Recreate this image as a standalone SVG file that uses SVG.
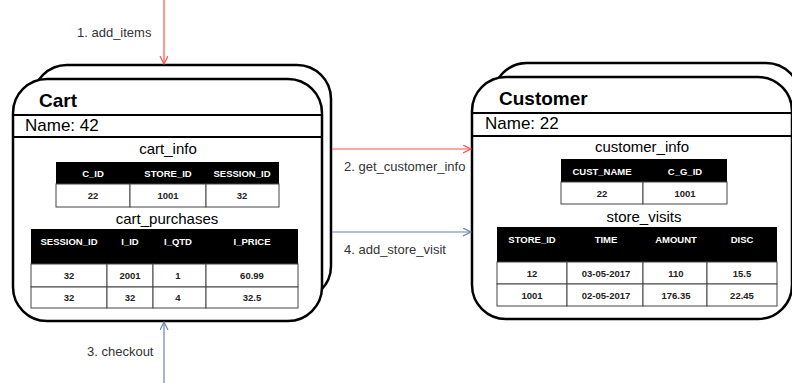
<svg xmlns="http://www.w3.org/2000/svg" width="792" height="383" viewBox="0 0 792 383">
<style>
.box{fill:#fff;stroke:#000;stroke-width:2.5}
.sep{stroke:#000;stroke-width:2.2}
.title{font-family:"Liberation Sans",Arial,sans-serif;font-size:19px;font-weight:bold;fill:#000}
.name{font-family:"Liberation Sans",Arial,sans-serif;font-size:17px;fill:#000}
.tname{font-family:"Liberation Sans",Arial,sans-serif;font-size:15px;fill:#000;text-anchor:middle}
.hd{fill:#000}
.cell{fill:#fff;stroke:#444;stroke-width:1}
.th{font-family:"Liberation Sans",Arial,sans-serif;font-size:9.5px;font-weight:bold;fill:#fff;text-anchor:middle}
.td{font-family:"Liberation Sans",Arial,sans-serif;font-size:9.5px;font-weight:bold;fill:#222;text-anchor:middle}
.lbl{font-family:"Liberation Sans",Arial,sans-serif;font-size:13px;fill:#333}
.red{stroke:#ff4d4d;stroke-width:1.2;fill:none}
.blue{stroke:#6b84a8;stroke-width:1.2;fill:none}
</style>
<defs>
<marker id="ahRed" markerWidth="10" markerHeight="10" refX="8" refY="4" orient="auto" markerUnits="userSpaceOnUse">
<path d="M0,0 L8,4 L0,8" fill="none" stroke="#ff4d4d" stroke-width="1.2"/>
</marker>
<marker id="ahBlue" markerWidth="10" markerHeight="10" refX="8" refY="4" orient="auto" markerUnits="userSpaceOnUse">
<path d="M0,0 L8,4 L0,8" fill="none" stroke="#6b84a8" stroke-width="1.2"/>
</marker>
</defs>

<g id="cart">
<rect class="box" x="33" y="65" width="298" height="235" rx="34"/>
<rect class="box" x="13" y="79" width="309" height="242" rx="34"/>
<line class="sep" x1="13" y1="115" x2="322" y2="115"/>
<line class="sep" x1="13" y1="137" x2="322" y2="137"/>
<text class="title" x="39" y="107">Cart</text>
<text class="name" x="25" y="131">Name: 42</text>

<text class="tname" x="168" y="154">cart_info</text>
<rect class="hd" x="56" y="162" width="223" height="22"/>
<rect class="cell" x="56" y="184" width="74" height="23"/>
<rect class="cell" x="130" y="184" width="76" height="23"/>
<rect class="cell" x="206" y="184" width="73" height="23"/>
<text class="th" x="93" y="177">C_ID</text>
<text class="th" x="168" y="177">STORE_ID</text>
<text class="th" x="242" y="177">SESSION_ID</text>
<text class="td" x="93" y="199">22</text>
<text class="td" x="168" y="199">1001</text>
<text class="td" x="242" y="199">32</text>

<text class="tname" x="167" y="224">cart_purchases</text>
<rect class="hd" x="31" y="229" width="267" height="35"/>
<rect class="cell" x="31" y="264" width="76" height="23"/>
<rect class="cell" x="107" y="264" width="46" height="23"/>
<rect class="cell" x="153" y="264" width="53" height="23"/>
<rect class="cell" x="206" y="264" width="92" height="23"/>
<rect class="cell" x="31" y="287" width="76" height="21"/>
<rect class="cell" x="107" y="287" width="46" height="21"/>
<rect class="cell" x="153" y="287" width="53" height="21"/>
<rect class="cell" x="206" y="287" width="92" height="21"/>
<text class="th" x="69" y="245">SESSION_ID</text>
<text class="th" x="130" y="245">I_ID</text>
<text class="th" x="178" y="245">I_QTD</text>
<text class="th" x="252" y="245">I_PRICE</text>
<text class="td" x="69" y="279">32</text>
<text class="td" x="130" y="279">2001</text>
<text class="td" x="178" y="279">1</text>
<text class="td" x="252" y="279">60.99</text>
<text class="td" x="69" y="301">32</text>
<text class="td" x="130" y="301">32</text>
<text class="td" x="178" y="301">4</text>
<text class="td" x="252" y="301">32.5</text>
</g>

<g id="customer">
<rect class="box" x="493" y="63" width="307" height="235" rx="34"/>
<rect class="box" x="472" y="77" width="320" height="242" rx="34"/>
<line class="sep" x1="472" y1="113" x2="792" y2="113"/>
<line class="sep" x1="472" y1="136" x2="792" y2="136"/>
<text class="title" x="499" y="105">Customer</text>
<text class="name" x="485" y="129">Name: 22</text>

<text class="tname" x="642" y="152">customer_info</text>
<rect class="hd" x="561" y="159" width="166" height="23"/>
<rect class="cell" x="561" y="182" width="82" height="22"/>
<rect class="cell" x="643" y="182" width="84" height="22"/>
<text class="th" x="602" y="174.5">CUST_NAME</text>
<text class="th" x="685" y="174.5">C_G_ID</text>
<text class="td" x="602" y="196.5">22</text>
<text class="td" x="685" y="196.5">1001</text>

<text class="tname" x="644" y="222">store_visits</text>
<rect class="hd" x="497" y="227" width="280" height="35"/>
<rect class="cell" x="497" y="262" width="70" height="22"/>
<rect class="cell" x="567" y="262" width="76" height="22"/>
<rect class="cell" x="643" y="262" width="64" height="22"/>
<rect class="cell" x="707" y="262" width="70" height="22"/>
<rect class="cell" x="497" y="284" width="70" height="22"/>
<rect class="cell" x="567" y="284" width="76" height="22"/>
<rect class="cell" x="643" y="284" width="64" height="22"/>
<rect class="cell" x="707" y="284" width="70" height="22"/>
<text class="th" x="532" y="243">STORE_ID</text>
<text class="th" x="606" y="243">TIME</text>
<text class="th" x="676" y="243">AMOUNT</text>
<text class="th" x="742" y="243">DISC</text>
<text class="td" x="532" y="276.5">12</text>
<text class="td" x="606" y="276.5">03-05-2017</text>
<text class="td" x="676" y="276.5">110</text>
<text class="td" x="742" y="276.5">15.5</text>
<text class="td" x="532" y="298.5">1001</text>
<text class="td" x="606" y="298.5">02-05-2017</text>
<text class="td" x="676" y="298.5">176.35</text>
<text class="td" x="742" y="298.5">22.45</text>
</g>

<g id="connectors">
<line class="red" x1="164" y1="0" x2="164" y2="64" marker-end="url(#ahRed)"/>
<line class="red" x1="332" y1="149" x2="471" y2="149" marker-end="url(#ahRed)"/>
<line class="blue" x1="332" y1="232" x2="471" y2="232" marker-end="url(#ahBlue)"/>
<line class="blue" x1="164" y1="383" x2="164" y2="322" marker-end="url(#ahBlue)"/>
<text class="lbl" x="77" y="37">1. add_items</text>
<text class="lbl" x="344" y="171">2. get_customer_info</text>
<text class="lbl" x="344" y="254">4. add_store_visit</text>
<text class="lbl" x="87" y="356">3. checkout</text>
</g>
</svg>
